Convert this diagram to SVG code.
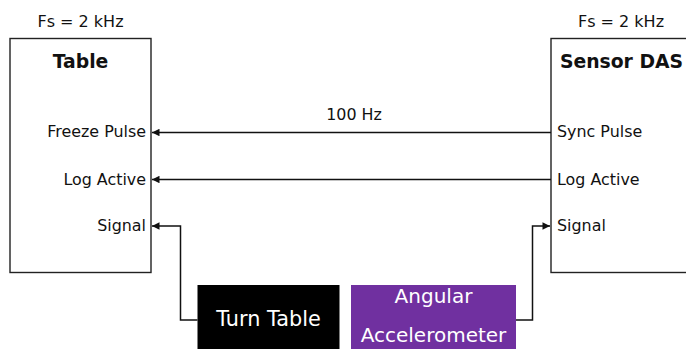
<svg xmlns="http://www.w3.org/2000/svg" width="686" height="349" viewBox="0 0 686 349">
  <style>
    .box { fill: #fff; stroke: #222; stroke-width: 1.4; }
    .t { font-family: "DejaVu Sans", Verdana, sans-serif; fill: #111; }
    .fs { font-size: 16px; text-anchor: middle; }
    .title { font-size: 18.8px; font-weight: bold; text-anchor: middle; }
    .lbl { font-size: 15.9px; }
    .end { text-anchor: end; }
    .wire { fill: none; stroke: #111; stroke-width: 1.5; }
    .blk { font-size: 20.8px; text-anchor: middle; fill: #fff; }
    .acc { font-size: 20px; }
  </style>
  <defs>
    <marker id="arr" viewBox="0 0 10 10" refX="10" refY="5" markerWidth="5.4" markerHeight="5" orient="auto" markerUnits="strokeWidth">
      <path d="M0,0 L10,5 L0,10 Z" fill="#111"/>
    </marker>
  </defs>

  <g id="table">
    <rect class="box" x="10" y="38.5" width="141" height="234"/>
    <text class="t fs" x="80.5" y="27">Fs = 2 kHz</text>
    <text class="t title" x="80.5" y="68">Table</text>
    <text class="t lbl end" x="146" y="137">Freeze Pulse</text>
    <text class="t lbl end" x="146" y="185">Log Active</text>
    <text class="t lbl end" x="146" y="231">Signal</text>
  </g>

  <g id="sensor-das">
    <rect class="box" x="551" y="38.5" width="150" height="234"/>
    <text class="t fs" x="621" y="27">Fs = 2 kHz</text>
    <text class="t title" x="621.5" y="68">Sensor DAS</text>
    <text class="t lbl" x="557" y="137">Sync Pulse</text>
    <text class="t lbl" x="557" y="185">Log Active</text>
    <text class="t lbl" x="557" y="231">Signal</text>
  </g>

  <g id="turn-table">
    <rect x="197.5" y="285" width="142" height="70" fill="#000"/>
    <text class="t blk" x="268.5" y="326">Turn Table</text>
  </g>

  <g id="angular-accelerometer">
    <rect x="351" y="285" width="165" height="70" fill="#7030a0"/>
    <text class="t blk acc" x="433.5" y="303">Angular</text>
    <text class="t blk acc" x="433.5" y="341.5">Accelerometer</text>
  </g>

  <g id="connectors">
    <path class="wire" d="M551,132.5 H152" marker-end="url(#arr)"/>
    <text class="t lbl" x="354" y="120" text-anchor="middle">100 Hz</text>
    <path class="wire" d="M551,179.5 H152" marker-end="url(#arr)"/>
    <path class="wire" d="M197.5,320 H180.5 V226 H152" marker-end="url(#arr)"/>
    <path class="wire" d="M516,320 H532.5 V226 H550" marker-end="url(#arr)"/>
  </g>
</svg>
